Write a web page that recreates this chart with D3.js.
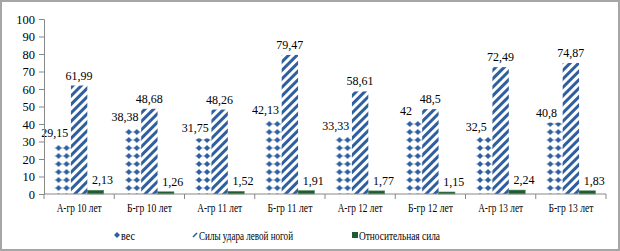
<!DOCTYPE html>
<html>
<head>
<meta charset="utf-8">
<script src="https://cdn.jsdelivr.net/npm/d3@7"></script>
<style>
  body { margin: 0; background: #fff; }
  svg text { font-family: "Liberation Serif", "DejaVu Serif", serif; fill: #000; }
</style>
</head>
<body>
<div id="chart"></div>
<script>
const categories = ['А-гр 10 лет', 'Б-гр 10 лет', 'А-гр 11 лет', 'Б-гр 11 лет', 'А-гр 12 лет', 'Б-гр 12 лет', 'А-гр 13 лет', 'Б-гр 13 лет'];
const seriesNames = ['вес', 'Силы удара левой ногой', 'Относительная сила'];
const ves = [29.15, 38.38, 31.75, 42.13, 33.33, 42, 32.5, 40.8];
const sila = [61.99, 48.68, 48.26, 79.47, 58.61, 48.5, 72.49, 74.87];
const otnos = [2.13, 1.26, 1.52, 1.91, 1.77, 1.15, 2.24, 1.83];
const labels = [
  ['29,15', '38,38', '31,75', '42,13', '33,33', '42', '32,5', '40,8'],
  ['61,99', '48,68', '48,26', '79,47', '58,61', '48,5', '72,49', '74,87'],
  ['2,13', '1,26', '1,52', '1,91', '1,77', '1,15', '2,24', '1,83']
];
const yTicks = [0, 10, 20, 30, 40, 50, 60, 70, 80, 90, 100];

const W = 620, H = 251;
const mLeft = 44, mRight = 606, mTop = 19, mBottom = 194;
const blue = '#2f5f9e';
const green = '#1f5a30';
const serif = '"Liberation Serif", "DejaVu Serif", serif';

const svg = d3.select('#chart').append('svg').attr('width', W).attr('height', H);

const defs = svg.append('defs');
// dotted pattern for "вес"
const dots = defs.append('pattern').attr('id', 'dots')
  .attr('patternUnits', 'userSpaceOnUse').attr('width', 8).attr('height', 8);
dots.append('rect').attr('width', 8).attr('height', 8).attr('fill', '#fff');
dots.append('line').attr('x1', 0).attr('x2', 8).attr('y1', 4).attr('y2', 4)
  .attr('stroke', '#9fb5d6').attr('stroke-width', 0.8);
dots.append('path').attr('d', 'M4,1 L7,4 L4,7 L1,4 Z').attr('fill', blue);
// diagonal stripes for "Силы удара"
const stripes = defs.append('pattern').attr('id', 'stripes')
  .attr('patternUnits', 'userSpaceOnUse').attr('width', 6).attr('height', 6)
  .attr('patternTransform', 'rotate(45)');
stripes.append('rect').attr('width', 6).attr('height', 6).attr('fill', '#fff');
stripes.append('rect').attr('x', 0).attr('width', 3).attr('height', 6).attr('fill', blue);

const fills = ['url(#dots)', 'url(#stripes)', green];
const labelDx = [-8, 0, 7];

// frame
svg.append('rect').attr('x', 1).attr('y', 1).attr('width', W - 2).attr('height', H - 2)
  .attr('fill', '#fff').attr('stroke', '#a6a6a6').attr('stroke-width', 2);

const x0 = d3.scaleBand().domain(categories).range([mLeft, mRight]).paddingInner(0.3).paddingOuter(0.15);
const x1 = d3.scaleBand().domain(seriesNames).range([0, x0.bandwidth()]);
const y = d3.scaleLinear().domain([0, 100]).range([mBottom, mTop]);

const data = [ves, sila, otnos];

const groups = svg.append('g').selectAll('g')
  .data(categories)
  .join('g')
  .attr('transform', d => `translate(${x0(d)},0)`);

groups.each(function (cat, i) {
  const g = d3.select(this);
  seriesNames.forEach((s, k) => {
    const v = data[k][i];
    g.append('rect')
      .attr('x', x1(s))
      .attr('y', y(v))
      .attr('width', x1.bandwidth())
      .attr('height', y(0) - y(v))
      .attr('fill', fills[k])
      .attr('stroke', k === 2 ? '#4f8a5f' : 'none')
      .attr('stroke-width', 0.6);
  });
});
// data labels drawn after all bars
groups.each(function (cat, i) {
  const g = d3.select(this);
  seriesNames.forEach((s, k) => {
    const v = data[k][i];
    g.append('text')
      .attr('x', x1(s) + x1.bandwidth() / 2 + labelDx[k])
      .attr('y', y(v) - 6)
      .attr('text-anchor', 'middle')
      .attr('font-family', serif)
      .attr('font-size', 12)
      .text(labels[k][i]);
  });
});

// y axis
const yAxis = svg.append('g').attr('transform', `translate(${mLeft},0)`)
  .call(d3.axisLeft(y).tickValues(yTicks).tickSize(5).tickPadding(4).tickFormat(d3.format('d')));
yAxis.attr('font-family', serif);
yAxis.select('.domain').attr('stroke', '#888');
yAxis.selectAll('.tick line').attr('stroke', '#888');
yAxis.selectAll('text').attr('font-size', 12.5);

// x axis
const step = (mRight - mLeft) / categories.length;
const xAxis = svg.append('g').attr('transform', `translate(0,${mBottom})`);
xAxis.append('line').attr('x1', mLeft).attr('x2', mRight).attr('stroke', '#888');
xAxis.selectAll('.tk').data(d3.range(categories.length + 1)).join('line')
  .attr('x1', i => mLeft + i * step).attr('x2', i => mLeft + i * step)
  .attr('y1', 0).attr('y2', 5).attr('stroke', '#888');
xAxis.selectAll('.cl').data(categories).join('text')
  .attr('x', d => x0(d) + x0.bandwidth() / 2)
  .attr('y', 18)
  .attr('text-anchor', 'middle')
  .attr('font-family', serif)
  .attr('font-size', 12)
  .attr('textLength', 45)
  .attr('lengthAdjust', 'spacingAndGlyphs')
  .text(d => d);

// legend
const legendItems = [
  { name: seriesNames[0], x: 117, w: 14 },
  { name: seriesNames[1], x: 195, w: 94 },
  { name: seriesNames[2], x: 355, w: 81 }
];
const lg = svg.append('g');
lg.append('path').attr('d', `M${legendItems[0].x},232 l3,3 l-3,3 l-3,-3 Z`).attr('fill', blue);
lg.append('path').attr('d', `M${legendItems[1].x - 2},237 l4,-4`).attr('stroke', blue).attr('stroke-width', 1.6);
lg.append('rect').attr('x', legendItems[2].x - 3).attr('y', 232).attr('width', 6).attr('height', 6).attr('fill', green);
lg.selectAll('text').data(legendItems).join('text')
  .attr('x', d => d.x + 4)
  .attr('y', 240)
  .attr('font-family', serif)
  .attr('font-size', 12)
  .attr('textLength', d => d.w)
  .attr('lengthAdjust', 'spacingAndGlyphs')
  .text(d => d.name);
</script>
</body>
</html>
